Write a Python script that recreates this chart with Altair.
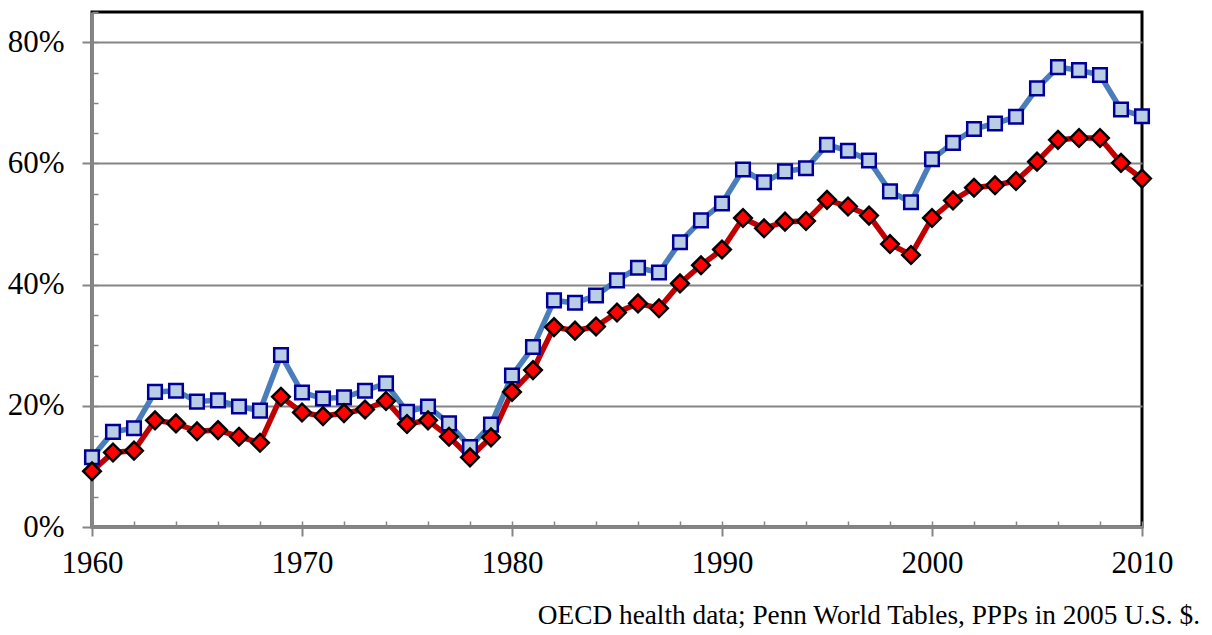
import altair as alt
import pandas as pd

years = list(range(1960, 2011))

series_blue = [11.5, 15.7, 16.3, 22.3, 22.5, 20.7, 20.9, 19.9, 19.2, 28.4,
               22.2, 21.2, 21.4, 22.5, 23.7, 19.0, 19.9, 17.1, 13.2, 16.9,
               25.0, 29.7, 37.4, 37.0, 38.2, 40.7, 42.8, 42.0, 47.0, 50.6,
               53.4, 59.0, 56.9, 58.7, 59.2, 63.1, 62.1, 60.5, 55.4, 53.6,
               60.7, 63.4, 65.7, 66.6, 67.7, 72.4, 75.9, 75.4, 74.6, 68.9,
               67.8]

series_red = [9.2, 12.3, 12.6, 17.6, 17.1, 15.8, 16.0, 14.9, 13.9, 21.5,
              18.9, 18.3, 18.8, 19.4, 20.8, 17.0, 17.6, 14.9, 11.5, 14.8,
              22.3, 25.9, 33.0, 32.4, 33.1, 35.4, 36.9, 36.1, 40.2, 43.2,
              45.8, 51.0, 49.3, 50.4, 50.5, 54.0, 52.9, 51.4, 46.7, 44.9,
              51.0, 53.9, 56.0, 56.4, 57.1, 60.3, 63.9, 64.2, 64.2, 60.1,
              57.5]

x_major = [1960, 1970, 1980, 1990, 2000, 2010]
x_minor = list(range(1960, 2011, 2))
y_major = [0, 20, 40, 60, 80]
y_minor = list(range(0, 86, 5))

source_text = "OECD health data; Penn World Tables, PPPs in 2005 U.S. $."

df_blue = pd.DataFrame({"year": years, "value": series_blue})
df_red = pd.DataFrame({"year": years, "value": series_red})

FONT = "Liberation Serif"
GRAY = "#858585"

xscale = alt.Scale(domain=[1960, 2010], nice=False, zero=False)
yscale = alt.Scale(domain=[0, 85], nice=False)

x_major_axis = alt.Axis(values=x_major, format="d", tickSize=9, tickWidth=2,
                        tickColor=GRAY, domainColor=GRAY, domainWidth=3,
                        labelFont=FONT, labelFontSize=31, labelColor="black",
                        labelPadding=12, grid=False, title=None, orient="bottom",
                        labelFlush=False, labelOverlap=False)
y_major_axis = alt.Axis(values=y_major, labelExpr="datum.value + '%'", tickSize=10,
                        tickWidth=2, tickColor=GRAY, domainColor=GRAY, domainWidth=3,
                        labelFont=FONT, labelFontSize=31, labelColor="black",
                        labelPadding=18, grid=True, gridColor=GRAY, gridWidth=2,
                        title=None, orient="left", labelFlush=False)
x_minor_axis = alt.Axis(values=x_minor, tickSize=6, tickWidth=1.5, tickColor=GRAY,
                        domain=False, labels=False, grid=False, title=None,
                        orient="bottom", offset=-6)
y_minor_axis = alt.Axis(values=y_minor, tickSize=6, tickWidth=1.5, tickColor=GRAY,
                        domain=False, labels=False, grid=False, title=None,
                        orient="left", offset=-6)

blue_line = alt.Chart(df_blue).mark_line(color="#4A7EBB", strokeWidth=5.5).encode(
    x=alt.X("year:Q", scale=xscale, axis=x_major_axis),
    y=alt.Y("value:Q", scale=yscale, axis=y_major_axis),
)
red_line = alt.Chart(df_red).mark_line(color="#C00000", strokeWidth=5.5).encode(
    x=alt.X("year:Q", scale=xscale, axis=x_minor_axis),
    y=alt.Y("value:Q", scale=yscale, axis=y_minor_axis),
)
blue_pts = alt.Chart(df_blue).mark_point(
    shape="square", size=185, filled=True, fill="#B9CDE5", stroke="#000099",
    strokeWidth=2.5, opacity=1).encode(
    x=alt.X("year:Q", scale=xscale, axis=None),
    y=alt.Y("value:Q", scale=yscale, axis=None),
)
red_pts = alt.Chart(df_red).mark_point(
    shape="diamond", size=310, filled=True, fill="#FF0000", stroke="black",
    strokeWidth=2.5, opacity=1).encode(
    x=alt.X("year:Q", scale=xscale, axis=None),
    y=alt.Y("value:Q", scale=yscale, axis=None),
)

chart = alt.layer(blue_line, red_line, blue_pts, red_pts).resolve_axis(
    x="independent", y="independent"
).properties(
    width=1050, height=515,
    autosize=alt.AutoSizeParams(type="none"),
    padding={"left": 84, "top": 4, "right": 58, "bottom": 104},
    title=alt.TitleParams(source_text, orient="bottom", anchor="end", frame="group",
                          dx=58, offset=24, font=FONT, fontSize=27.3,
                          fontWeight="normal", color="black"),
).configure(background="white").configure_view(stroke="black", strokeWidth=3)

chart.save("out.html", embed_options={"renderer": "svg", "actions": False})
